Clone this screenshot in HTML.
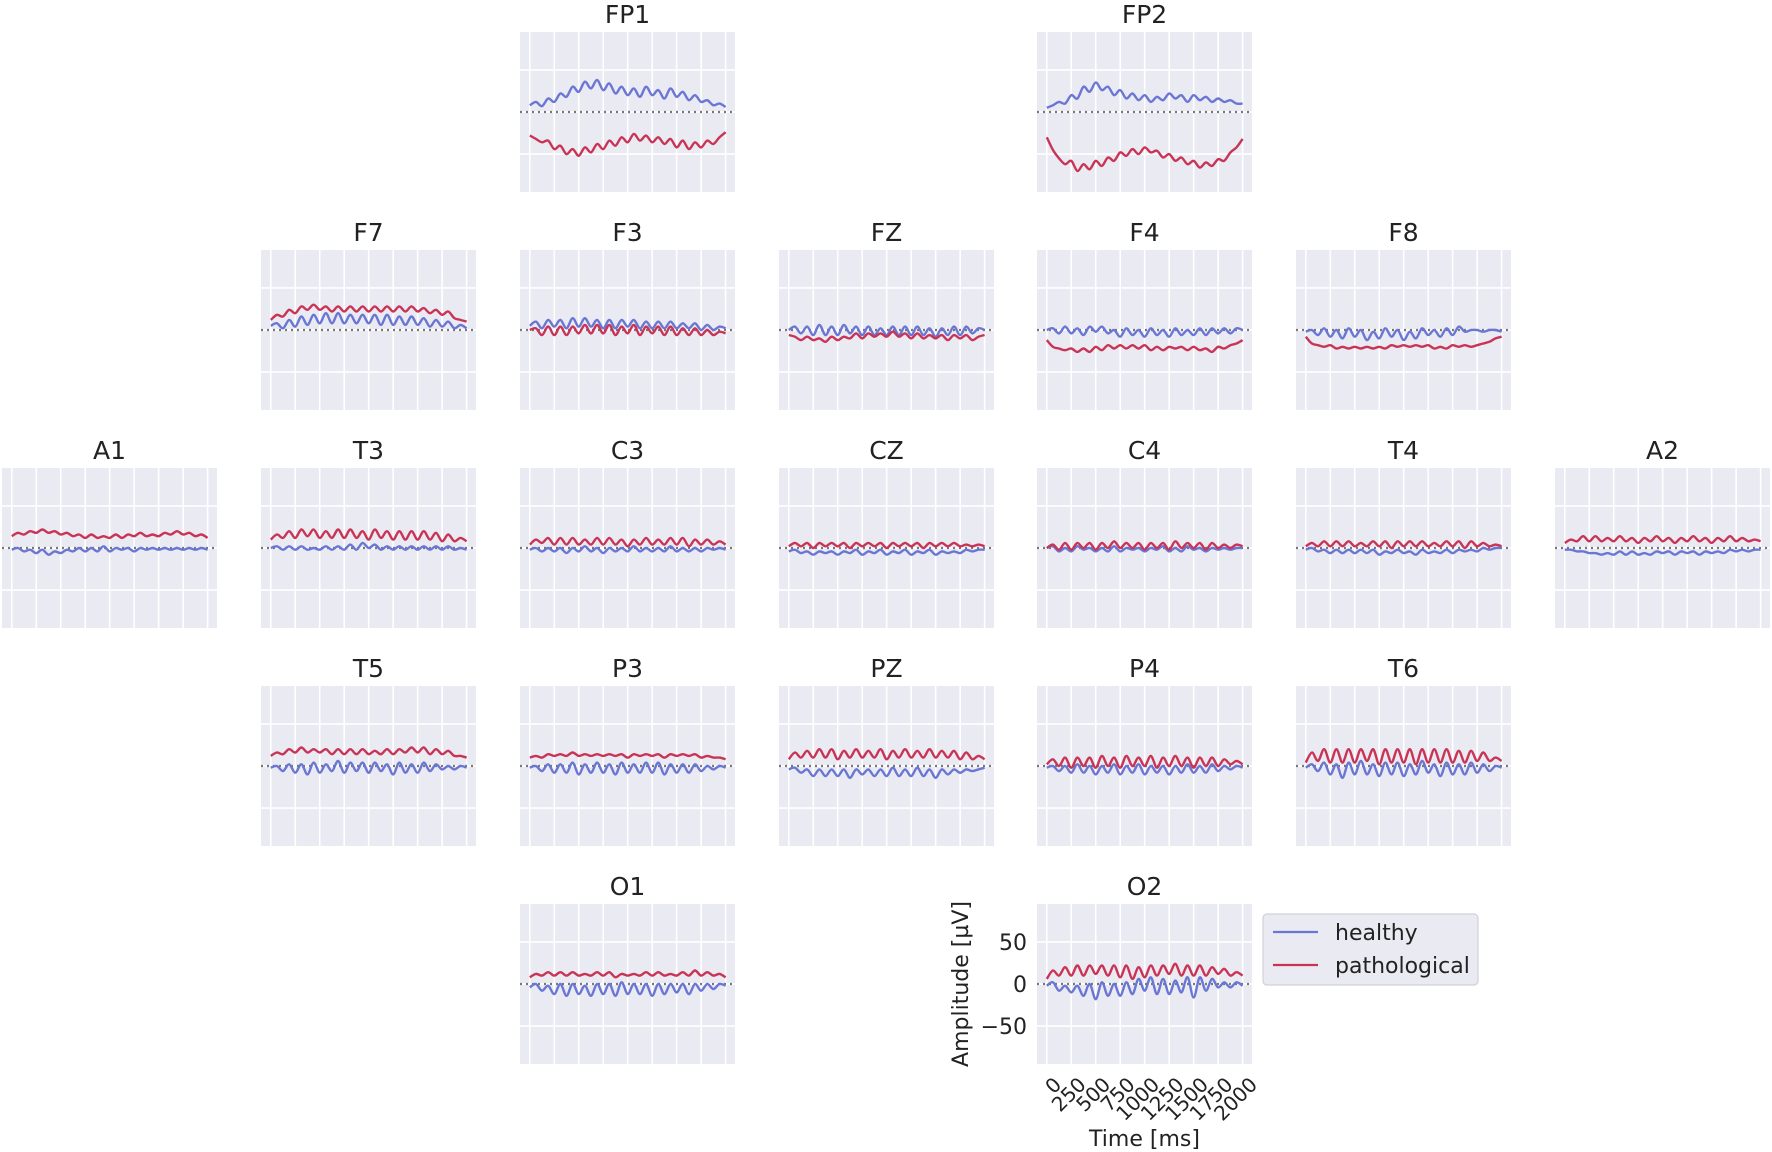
<!DOCTYPE html>
<html><head><meta charset="utf-8"><style>
html,body{margin:0;padding:0;background:#fff;}
svg{display:block;font-family:"DejaVu Sans","Liberation Sans",sans-serif;}
</style></head><body>
<svg id="chart" width="1772" height="1152" viewBox="0 0 1772 1152" xmlns="http://www.w3.org/2000/svg"></svg>
<script>
const times = [0,62.5,125,187.5,250,312.5,375,437.5,500,562.5,625,687.5,750,812.5,875,937.5,1000,1062.5,1125,1187.5,1250,1312.5,1375,1437.5,1500,1562.5,1625,1687.5,1750,1812.5,1875,1937.5,2000];
const channels = ["FP1","FP2","F7","F3","FZ","F4","F8","A1","T3","C3","CZ","C4","T4","A2","T5","P3","PZ","P4","T6","O1","O2"];
const gridCols = [2,4,1,2,3,4,5,0,1,2,3,4,5,6,1,2,3,4,5,2,4];
const gridRows = [0,0,1,1,1,1,1,2,2,2,2,2,2,2,3,3,3,3,3,4,4];
const yTicks = [-50,0,50];
const yTickLabels = ["\u221250","0","50"];
const xTicks = [0,250,500,750,1000,1250,1500,1750,2000];
const xTickLabels = ["0","250","500","750","1000","1250","1500","1750","2000"];
const healthy = {
FP1:[8,12,7,16,12,22,18,30,24,36,28,38,26,34,22,30,20,28,18,30,20,26,16,28,18,24,14,20,12,14,8,10,6],
FP2:[5,8,12,10,20,16,30,24,35,26,30,20,26,16,22,14,20,12,18,14,22,16,20,12,20,14,18,12,16,12,14,10,10],
F7:[5,8,2,12,4,16,6,18,8,20,8,20,8,18,8,18,8,18,6,18,6,16,6,16,6,14,4,12,4,10,2,6,2],
F3:[5,10,2,12,4,12,2,14,4,14,4,12,2,12,2,12,4,12,2,10,2,10,2,10,2,8,2,8,0,6,0,4,2],
FZ:[0,4,-4,4,-6,6,-6,4,-6,6,-4,4,-6,4,-6,2,-6,4,-6,4,-6,4,-6,2,-8,2,-6,4,-6,4,-4,2,0],
F4:[0,2,-4,4,-4,2,-6,4,-2,4,-4,0,-8,2,-6,0,-8,2,-6,0,-8,2,-6,0,-6,2,-6,2,-4,2,-4,2,0],
F8:[-2,0,-6,2,-8,0,-10,2,-8,0,-12,-2,-10,2,-8,0,-12,-2,-10,2,-6,0,-8,2,-6,4,-2,0,0,-2,0,0,-2],
A1:[-2,0,-4,-2,-6,-2,-8,-4,-6,-2,-4,0,-4,0,-4,2,-4,0,-2,0,-4,0,-2,0,-2,0,-2,0,-2,0,-2,0,-2],
T3:[0,2,-2,2,-2,2,-2,0,-2,2,-2,2,-2,4,-2,6,0,4,-2,2,-2,2,-2,2,-2,2,-2,2,-2,2,-2,0,-2],
C3:[-2,0,-4,0,-4,0,-6,0,-4,2,-4,0,-6,0,-4,0,-4,2,-4,0,-4,0,-4,2,-4,0,-4,0,-4,0,-2,0,-2],
CZ:[-4,-2,-6,-4,-8,-4,-6,-4,-8,-4,-6,-2,-8,-4,-6,-2,-8,-4,-6,-2,-8,-4,-6,-2,-8,-4,-6,-4,-6,-2,-4,-2,-2],
C4:[0,2,-4,0,-4,2,-2,0,-4,0,-4,2,-4,0,-2,0,-4,0,-2,2,-4,0,-4,2,-2,0,-4,0,-2,0,-2,0,0],
T4:[-2,0,-4,-2,-6,-2,-6,-2,-6,-2,-6,-2,-8,-4,-6,-2,-6,-4,-8,-2,-6,-4,-6,-2,-6,-2,-4,-2,-4,0,-2,0,0],
A2:[-2,-2,-4,-4,-6,-6,-8,-6,-8,-4,-8,-4,-8,-6,-8,-4,-6,-4,-8,-4,-6,-4,-8,-4,-6,-4,-6,-2,-4,-2,-4,-2,-2],
T5:[-2,0,-6,2,-8,2,-10,4,-8,2,-6,6,-8,4,-6,4,-8,4,-6,2,-10,4,-8,2,-8,4,-6,2,-4,0,-4,0,-2],
P3:[-2,0,-6,2,-8,2,-8,4,-10,2,-8,4,-8,2,-10,4,-8,2,-8,4,-8,4,-10,2,-8,2,-8,2,-6,0,-4,0,-2],
PZ:[-4,-2,-8,-4,-12,-4,-12,-4,-12,-4,-14,-4,-10,-4,-12,-4,-12,-2,-12,-4,-12,-2,-12,-4,-14,-4,-10,-4,-8,-4,-6,-4,-2],
P4:[-2,0,-6,0,-8,2,-8,0,-10,0,-8,2,-10,0,-8,2,-10,0,-8,0,-10,0,-8,2,-8,0,-8,2,-6,0,-4,0,-2],
T6:[-2,2,-6,4,-10,2,-14,4,-10,6,-10,2,-12,4,-10,4,-12,2,-10,6,-8,2,-12,4,-10,2,-10,4,-8,2,-6,0,-2],
O1:[-4,0,-8,-2,-12,0,-14,0,-12,-2,-14,0,-12,0,-14,2,-12,0,-12,0,-14,0,-12,0,-10,0,-12,0,-8,0,-6,0,-2],
O2:[-2,2,-8,-2,-10,-2,-14,0,-18,2,-14,0,-14,2,-12,6,-8,8,-12,6,-12,4,-10,8,-16,8,-8,6,-4,2,-4,2,-2]
};
const pathological = {
FP1:[-28,-32,-36,-34,-44,-40,-50,-44,-52,-42,-48,-38,-44,-34,-40,-30,-36,-26,-34,-28,-36,-30,-38,-32,-42,-34,-44,-36,-42,-34,-38,-30,-24],
FP2:[-30,-45,-55,-62,-58,-70,-62,-68,-58,-64,-54,-58,-48,-52,-44,-50,-42,-48,-46,-54,-50,-58,-54,-62,-58,-66,-60,-64,-56,-58,-48,-42,-32],
F7:[12,18,16,24,20,28,24,30,24,28,22,28,22,28,22,28,22,28,22,28,22,28,22,28,22,26,20,24,18,22,14,12,10],
F3:[0,2,-6,4,-6,4,-6,4,-4,6,-4,6,-4,6,-6,4,-4,6,-6,4,-4,4,-6,4,-6,2,-6,2,-6,0,-6,-2,-4],
FZ:[-6,-8,-12,-8,-12,-10,-14,-8,-12,-8,-10,-4,-10,-4,-8,-4,-8,-2,-8,-4,-10,-4,-10,-6,-10,-6,-12,-6,-10,-6,-12,-8,-6],
F4:[-12,-20,-22,-24,-22,-26,-22,-26,-20,-24,-18,-22,-18,-22,-18,-22,-18,-24,-20,-24,-20,-22,-20,-24,-20,-24,-22,-26,-20,-22,-18,-16,-12],
F8:[-8,-16,-18,-20,-18,-22,-20,-22,-20,-22,-20,-22,-20,-22,-18,-20,-18,-20,-18,-20,-18,-22,-20,-22,-18,-20,-18,-20,-18,-16,-14,-10,-8],
A1:[14,18,16,20,18,22,18,20,16,18,14,16,12,16,12,14,12,16,12,16,14,18,14,16,14,18,16,20,16,18,14,16,12],
T3:[10,16,12,20,12,22,14,22,12,20,12,22,12,22,12,20,10,22,12,20,10,20,10,20,10,20,10,18,8,16,8,12,8],
C3:[4,10,6,12,4,12,4,12,4,10,4,12,4,12,4,10,2,10,4,12,4,10,4,12,4,12,2,10,4,10,4,8,4],
CZ:[2,6,2,6,0,6,2,6,2,6,0,6,2,6,2,6,0,6,2,6,2,6,0,6,2,6,2,6,2,4,2,4,2],
C4:[0,4,-2,6,-2,6,0,6,-2,6,0,8,0,6,0,6,-2,6,0,6,-2,8,0,6,0,6,-2,6,0,4,0,4,2],
T4:[2,6,2,8,2,8,2,8,2,6,2,8,2,8,0,8,2,8,2,8,2,6,2,8,2,8,0,8,2,6,2,4,2],
A2:[6,10,8,14,8,14,8,12,8,14,8,12,6,12,8,14,8,12,6,12,8,14,8,12,6,12,8,14,8,12,8,10,8],
T5:[12,16,14,20,16,22,16,20,16,20,14,20,14,20,14,20,14,18,14,20,14,20,16,22,16,22,14,20,14,18,12,12,10],
P3:[10,12,10,14,12,14,12,16,12,14,12,14,12,14,12,14,10,14,12,14,12,14,10,14,12,14,12,14,10,12,10,10,8],
PZ:[8,16,10,18,10,20,10,20,8,18,10,20,10,18,10,20,8,18,10,20,10,18,10,20,10,18,10,18,8,16,8,12,8],
P4:[2,8,0,10,-2,10,0,10,-2,12,0,10,-2,12,0,10,0,12,-2,10,0,12,0,10,-2,10,0,10,0,8,2,6,2],
T6:[4,16,6,20,4,20,4,20,4,20,6,20,2,20,4,20,4,20,2,20,4,20,4,20,4,18,4,18,6,16,6,10,6],
O1:[8,12,10,14,10,14,10,14,10,12,10,14,10,14,8,12,10,12,10,14,10,14,10,12,10,14,10,16,10,14,10,12,8],
O2:[6,16,10,20,10,22,10,22,12,22,10,22,8,22,6,20,8,22,10,22,12,24,10,22,10,22,10,20,12,18,10,14,10]
};

const NS = "http://www.w3.org/2000/svg";
const svg = document.getElementById("chart");
const colLeft = [2, 261, 520, 779, 1037, 1296, 1555];
const rowTop = [32, 250, 468, 686, 904];
const PW = 215, PH = 160;
const XMIN = -100, XMAX = 2096, YMIN = -95, YMAX = 95;
const HC = "#6a76d4", PC = "#c93456";

function mk(tag, attrs, parent){
  const e = document.createElementNS(NS, tag);
  for (const k in attrs) e.setAttribute(k, attrs[k]);
  (parent || svg).appendChild(e);
  return e;
}
function smoothPath(pts){
  let d = "M" + pts[0][0].toFixed(1) + "," + pts[0][1].toFixed(1);
  for (let i = 0; i < pts.length - 1; i++){
    const p0 = pts[Math.max(0,i-1)], p1 = pts[i], p2 = pts[i+1], p3 = pts[Math.min(pts.length-1,i+2)];
    const c1x = p1[0] + (p2[0]-p0[0])/6, c1y = p1[1] + (p2[1]-p0[1])/6;
    const c2x = p2[0] - (p3[0]-p1[0])/6, c2y = p2[1] - (p3[1]-p1[1])/6;
    d += " C" + c1x.toFixed(1)+","+c1y.toFixed(1)+" "+c2x.toFixed(1)+","+c2y.toFixed(1)+" "+p2[0].toFixed(1)+","+p2[1].toFixed(1);
  }
  return d;
}

channels.forEach((ch, ci) => {
  const L = colLeft[gridCols[ci]], T = rowTop[gridRows[ci]];
  const sx = v => L + (v - XMIN) / (XMAX - XMIN) * PW;
  const sy = v => T + PH - (v - YMIN) / (YMAX - YMIN) * PH;
  const g = mk("g", {});
  
  
  const bg = mk("rect", {x:L, y:T, width:PW, height:PH, fill:"#eaeaf2"}, g);
  
  
  xTicks.forEach(v => {
    const l = mk("line", {x1:sx(v), x2:sx(v), y1:T, y2:T+PH, stroke:"#fff", "stroke-width":1.6}, g);
    
    
  });
  yTicks.forEach(v => {
    const l = mk("line", {x1:L, x2:L+PW, y1:sy(v), y2:sy(v), stroke:"#fff", "stroke-width":1.6}, g);
    
    
  });
  const z = mk("line", {x1:L, x2:L+PW, y1:sy(0), y2:sy(0), stroke:"#777", "stroke-width":2.2, "stroke-dasharray":"2,4"}, g);
  
  
  const hp = mk("path", {d:smoothPath(times.map((t,i)=>[sx(t), sy(healthy[ch][i])])), fill:"none", stroke:HC, "stroke-width":2.4}, g);
  
  
  const pp = mk("path", {d:smoothPath(times.map((t,i)=>[sx(t), sy(pathological[ch][i])])), fill:"none", stroke:PC, "stroke-width":2.4}, g);
  
  
  const tt = mk("text", {x:L+PW/2, y:T-9, "text-anchor":"middle", "font-size":25, fill:"#222"}, g);
  tt.textContent = ch;
  
  

  if (ch === "O2"){
    yTicks.forEach((v,i) => {
      const t = mk("text", {x:L-10, y:sy(v)+8, "text-anchor":"end", "font-size":22, fill:"#222"}, g);
      t.textContent = yTickLabels[i];
      
      
    });
    xTicks.forEach((v,i) => {
      const x = sx(v) + 6, y = T + PH + 12;
      const t = mk("text", {x:x, y:y, "text-anchor":"end", "font-size":20, fill:"#222", transform:"rotate(-45 "+x+" "+y+")", dy:"0.7em"}, g);
      t.textContent = xTickLabels[i];
      
      
    });
    const yl = mk("text", {x:0, y:0, "text-anchor":"middle", "font-size":22, fill:"#222", transform:"translate(968 "+(T+PH/2)+") rotate(-90)"}, g);
    yl.textContent = "Amplitude [\u00b5V]";
    
    
    const xl = mk("text", {x:L+PW/2, y:1146, "text-anchor":"middle", "font-size":22, fill:"#222"}, g);
    xl.textContent = "Time [ms]";
    
    
  }
});

// legend
const lg = mk("g", {});


const lb = mk("rect", {x:1263, y:914, width:215, height:71, rx:4, fill:"#eaeaf2", stroke:"#d0d0d8", "stroke-width":1.2}, lg);


[["healthy",HC,932],["pathological",PC,965]].forEach(e => {
  const l = mk("line", {x1:1273, x2:1318, y1:e[2], y2:e[2], stroke:e[1], "stroke-width":2.3}, lg);
  
  
  const t = mk("text", {x:1335, y:e[2]+8, "font-size":22, fill:"#222"}, lg);
  t.textContent = e[0];
  
  
});
</script>
</body></html>
